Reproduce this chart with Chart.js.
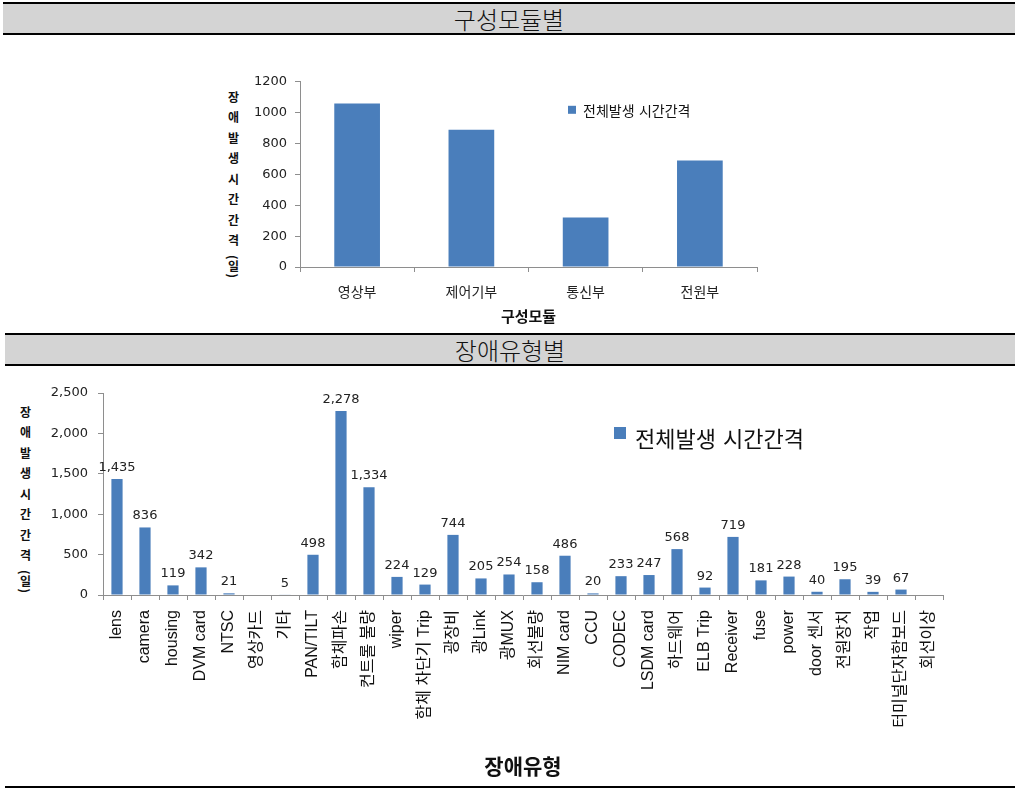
<!DOCTYPE html>
<html>
<head>
<meta charset="utf-8">
<script src="https://cdn.jsdelivr.net/npm/chart.js@4.4.1/dist/chart.umd.min.js"></script>
<style>
  body { margin: 0; width: 1018px; height: 791px; background: #fff; position: relative; overflow: hidden; font-family: "Noto Sans CJK KR", sans-serif; }
  .band { position: absolute; left: 3px; width: 1012px; height: 33px; box-sizing: border-box; background: #d4d4d4;
          border-top: 2px solid #000; border-bottom: 2px solid #000; text-align: center; font-size: 24px; font-weight: 300; line-height: 30px; color: #111; }
  .rule { position: absolute; left: 5px; width: 1010px; height: 2px; background: #000; }
  .ytitle { position: absolute; writing-mode: vertical-rl; font-weight: bold; font-size: 12px; line-height: 12px; letter-spacing: 8.5px; color: #111; }
  .ytitle span { letter-spacing: 1px; }
  canvas { position: absolute; }
</style>
</head>
<body>
<div class="band" style="top:2px">구성모듈별</div>
<div class="band" style="top:333px;left:5px;width:1010px">장애유형별</div>
<div class="rule" style="top:786px"></div>

<div class="ytitle" style="left:227px;top:91px">장애발생시간간격<span>(일)</span></div>
<div class="ytitle" style="left:19px;top:406px">장애발생시간간격<span>(일)</span></div>

<canvas id="moduleChart" width="540" height="266" style="left:230px;top:66px"></canvas>
<canvas id="faultChart" width="1018" height="416" style="left:0px;top:368px"></canvas>

<script>
const seriesName = "전체발생 시간간격";

const moduleNames = ["영상부", "제어기부", "통신부", "전원부"];
const moduleDays = [1060, 890, 320, 690];
const moduleMax = 1200, moduleStep = 200;

const faultTypes = ["lens", "camera", "housing", "DVM card", "NTSC", "영상카드", "기타", "PAN/TILT",
  "함체파손", "컨트롤 불량", "wiper", "함체 차단기 Trip", "광장비", "광Link", "광MUX", "회선불량",
  "NIM card", "CCU", "CODEC", "LSDM card", "하드웨어", "ELB Trip", "Receiver", "fuse", "power",
  "door 센서", "전원장치", "작업", "터미널단자함보드", "회선이상"];
const faultDays = [1435, 836, 119, 342, 21, null, 5, 498, 2278, 1334, 224, 129, 744, 205, 254, 158,
  486, 20, 233, 247, 568, 92, 719, 181, 228, 40, 195, 39, 67, null];
const faultMax = 2500, faultStep = 500;

const barColor = "#4a7ebb";
const axisColor = "#8e8e8e";
const FONT = '"DejaVu Sans", "Noto Sans CJK KR", sans-serif';
const LABEL_FONT = '"Liberation Sans", "Noto Sans CJK KR", sans-serif';

// legend drawn inside the plot area, like the Excel original
const floatLegend = {
  id: "floatLegend",
  afterDraw(chart, args, o) {
    const { ctx, chartArea } = chart;
    const ds = chart.data.datasets[0];
    const x = chartArea.left + o.dx, y = chartArea.top + o.dy;
    ctx.save();
    ctx.fillStyle = ds.backgroundColor;
    ctx.fillRect(x, y, o.box, o.box);
    ctx.fillStyle = "#111";
    ctx.font = o.size + "px " + FONT;
    ctx.textBaseline = "middle";
    ctx.fillText(ds.label, x + o.box + o.gap, y + o.textDy);
    ctx.restore();
  }
};

// value above each bar
const valueLabels = {
  id: "valueLabels",
  afterDatasetsDraw(chart, args, o) {
    if (!o.show) return;
    const { ctx } = chart;
    const ds = chart.data.datasets[0];
    ctx.save();
    ctx.fillStyle = "#222";
    ctx.font = "13px " + FONT;
    ctx.textAlign = "center";
    ctx.textBaseline = "alphabetic";
    chart.getDatasetMeta(0).data.forEach((bar, i) => {
      const v = ds.data[i];
      if (v == null) return;
      ctx.fillText(v.toLocaleString("en-US"), bar.x, bar.y - 8);
    });
    ctx.restore();
  }
};

new Chart(document.getElementById("moduleChart"), {
  type: "bar",
  data: {
    labels: moduleNames,
    datasets: [{ label: seriesName, data: moduleDays, backgroundColor: barColor,
                 categoryPercentage: 1, barPercentage: 0.4 }]
  },
  options: {
    responsive: false,
    animation: false,
    layout: { padding: { top: 6, right: 13, bottom: 5, left: 0 } },
    plugins: {
      legend: { display: false },
      tooltip: { enabled: false },
      floatLegend: { dx: 268, dy: 24, box: 8, gap: 7, textDy: 7, size: 14 },
      valueLabels: { show: false }
    },
    scales: {
      x: {
        afterFit: s => { s.height = 60; },
        grid: { drawOnChartArea: false, tickLength: 5, color: axisColor },
        border: { color: axisColor },
        ticks: { color: "#222", padding: 13, font: { family: FONT, size: 14 } },
        title: { display: true, text: "구성모듈", color: "#111", padding: { top: 0, bottom: 0 },
                 font: { family: FONT, size: 15, weight: "bold" } }
      },
      y: {
        min: 0, max: moduleMax,
        afterFit: s => { s.width = 70; },
        grid: { drawOnChartArea: false, tickLength: 5, color: axisColor },
        border: { color: axisColor },
        ticks: { stepSize: moduleStep, color: "#222", padding: 8, font: { family: FONT, size: 13 },
                 callback: v => String(v) }
      }
    }
  },
  plugins: [floatLegend, valueLabels]
});

new Chart(document.getElementById("faultChart"), {
  type: "bar",
  data: {
    labels: faultTypes,
    datasets: [{ label: seriesName, data: faultDays, backgroundColor: barColor,
                 categoryPercentage: 1, barPercentage: 0.4 }]
  },
  options: {
    responsive: false,
    animation: false,
    layout: { padding: { top: 25, right: 75, bottom: 0, left: 0 } },
    plugins: {
      legend: { display: false },
      tooltip: { enabled: false },
      floatLegend: { dx: 511, dy: 34, box: 12, gap: 9, textDy: 14, size: 22 },
      valueLabels: { show: true }
    },
    scales: {
      x: {
        afterFit: s => { s.height = 189; },
        grid: { drawOnChartArea: false, tickLength: 5, color: axisColor },
        border: { color: axisColor },
        ticks: { autoSkip: false, minRotation: 90, maxRotation: 90, color: "#111", padding: 10,
                 font: { family: LABEL_FONT, size: 16 } },
        title: { display: true, text: "장애유형", color: "#111", padding: { top: 0, bottom: 3 },
                 font: { family: FONT, size: 21, weight: "bold" } }
      },
      y: {
        min: 0, max: faultMax,
        afterFit: s => { s.width = 103; },
        grid: { drawOnChartArea: false, tickLength: 5, color: axisColor },
        border: { color: axisColor },
        ticks: { stepSize: faultStep, color: "#222", padding: 10, font: { family: FONT, size: 13 } }
      }
    }
  },
  plugins: [floatLegend, valueLabels]
});
</script>
</body>
</html>
